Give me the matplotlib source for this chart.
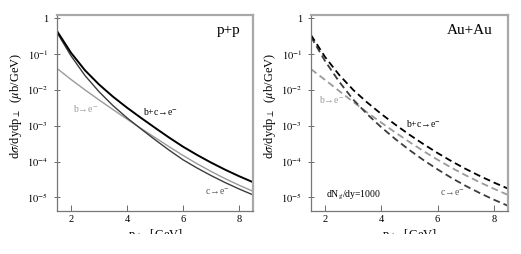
import numpy as np
import matplotlib.pyplot as plt
from matplotlib.patches import Rectangle
from matplotlib.ticker import FixedLocator, NullLocator

plt.rcParams['font.family'] = ['Liberation Serif', 'DejaVu Serif']
plt.rcParams['mathtext.fontset'] = 'stix'

# transverse momentum grid (GeV) where values were read
pt = [1.5, 2.0, 2.5, 3.0, 3.5, 4.0, 4.5, 5.0, 5.5, 6.0, 6.5, 7.0, 7.5, 8.0, 8.5]

# p+p spectra (mub/GeV)
pp_c   = [3.98e-1, 8.91e-2, 2.51e-2, 8.91e-3, 3.63e-3, 1.66e-3, 8.13e-4, 4.07e-4,
          2.09e-4, 1.12e-4, 6.61e-5, 4.07e-5, 2.60e-5, 1.72e-5, 1.175e-5]
pp_b   = [3.98e-2, 1.95e-2, 1.00e-2, 5.25e-3, 2.82e-3, 1.53e-3, 8.41e-4, 4.68e-4,
          2.60e-4, 1.48e-4, 8.71e-5, 5.31e-5, 3.35e-5, 2.19e-5, 1.48e-5]
pp_tot = [4.38e-1, 1.086e-1, 3.51e-2, 1.416e-2, 6.45e-3, 3.19e-3, 1.654e-3, 8.75e-4,
          4.69e-4, 2.60e-4, 1.532e-4, 9.38e-5, 5.95e-5, 3.91e-5, 2.655e-5]

# Au+Au spectra (mub/GeV), dN_g/dy = 1000
aa_c   = [3.02e-1, 6.38e-2, 1.70e-2, 5.37e-3, 2.09e-3, 9.02e-4, 4.22e-4, 2.09e-4,
          1.096e-4, 6.03e-5, 3.47e-5, 2.09e-5, 1.318e-5, 8.61e-6, 5.82e-6]
aa_b   = [3.80e-2, 1.905e-2, 9.33e-3, 4.62e-3, 2.34e-3, 1.216e-3, 6.46e-4, 3.51e-4,
          1.95e-4, 1.122e-4, 6.68e-5, 4.12e-5, 2.63e-5, 1.738e-5, 1.175e-5]
aa_tot = [3.40e-1, 8.29e-2, 2.63e-2, 9.99e-3, 4.43e-3, 2.12e-3, 1.068e-3, 5.60e-4,
          3.05e-4, 1.725e-4, 1.015e-4, 6.21e-5, 3.95e-5, 2.60e-5, 1.757e-5]

xticks = [2, 4, 6, 8]
yticks = [1, 1e-1, 1e-2, 1e-3, 1e-4, 1e-5]
ytick_labels = ['1', r'$10^{-1}$', r'$10^{-2}$', r'$10^{-3}$', r'$10^{-4}$', r'$10^{-5}$']

dark = '#3c3c3c'
light = '#9a9a9a'
frame = '#a8a8a8'

fig = plt.figure(figsize=(5.21, 2.54), dpi=100)
ax1 = fig.add_axes([0.1094, 0.1693, 0.3762, 0.7717])
ax2 = fig.add_axes([0.5969, 0.1693, 0.3781, 0.7717])

def style(ax):
    ax.set_yscale('log')
    ax.set_xlim(1.5, 8.5)
    ax.set_ylim(10**-5.38, 10**0.09)
    ax.xaxis.set_major_locator(FixedLocator(xticks))
    ax.yaxis.set_major_locator(FixedLocator(yticks))
    ax.yaxis.set_minor_locator(NullLocator())
    ax.set_yticklabels(ytick_labels)
    ax.tick_params(axis='both', labelsize=7.5, color='#555555', width=0.6)
    ax.tick_params(axis='x', direction='in', length=4, pad=3)
    ax.tick_params(axis='y', direction='inout', length=5, pad=4)
    for s in ['left', 'bottom']:
        ax.spines[s].set_color('#777777')
        ax.spines[s].set_linewidth(0.9)
    for s in ['top', 'right']:
        ax.spines[s].set_color(frame)
        ax.spines[s].set_linewidth(1.6)
    ax.set_ylabel(r'd$\sigma$/dydp$_\perp$  ($\mu$b/GeV)', fontsize=9)
    ax.yaxis.set_label_coords(-0.168, 0.535)
    ax.set_xlabel(r'p$_\perp$  [GeV]', fontsize=9, labelpad=2)

style(ax1)
style(ax2)

ax1.plot(pt, pp_b, color=light, lw=1.0)
ax1.plot(pt, pp_c, color=dark, lw=1.0)
ax1.plot(pt, pp_tot, color='black', lw=1.4)
ax1.text(0.935, 0.92, 'p+p', transform=ax1.transAxes, ha='right', va='center', fontsize=11)
ax1.text(4.57, 10**-2.59, 'b+c→e$^{-}$', fontsize=7, va='center')
ax1.text(2.07, 10**-2.52, 'b→e$^{-}$', fontsize=7, color=light, va='center')
ax1.text(6.8, 10**-4.84, 'c→e$^{-}$', fontsize=7, color='#555555', va='center')

dash = (3.8, 2.2)
ax2.plot(pt, aa_b, color=light, lw=1.3, dashes=dash)
ax2.plot(pt, aa_c, color=dark, lw=1.3, dashes=dash)
ax2.plot(pt, aa_tot, color='black', lw=1.3, dashes=dash)
ax2.text(0.92, 0.92, 'Au+Au', transform=ax2.transAxes, ha='right', va='center', fontsize=11)
ax2.text(4.87, 10**-2.93, 'b+c→e$^{-}$', fontsize=7, va='center')
ax2.text(1.78, 10**-2.28, 'b→e$^{-}$', fontsize=7, color=light, va='center')
ax2.text(6.07, 10**-4.88, 'c→e$^{-}$', fontsize=7, color='#555555', va='center')
ax2.text(2.05, 10**-4.96, r'dN$_{\rm g}$/dy=1000', fontsize=7, va='center')

# the original image is cut just below the top of the x labels
fig.add_artist(Rectangle((0, 0), 1, 0.078, transform=fig.transFigure,
                         facecolor='white', edgecolor='none', zorder=10))

fig.savefig('out.png', dpi=100)
